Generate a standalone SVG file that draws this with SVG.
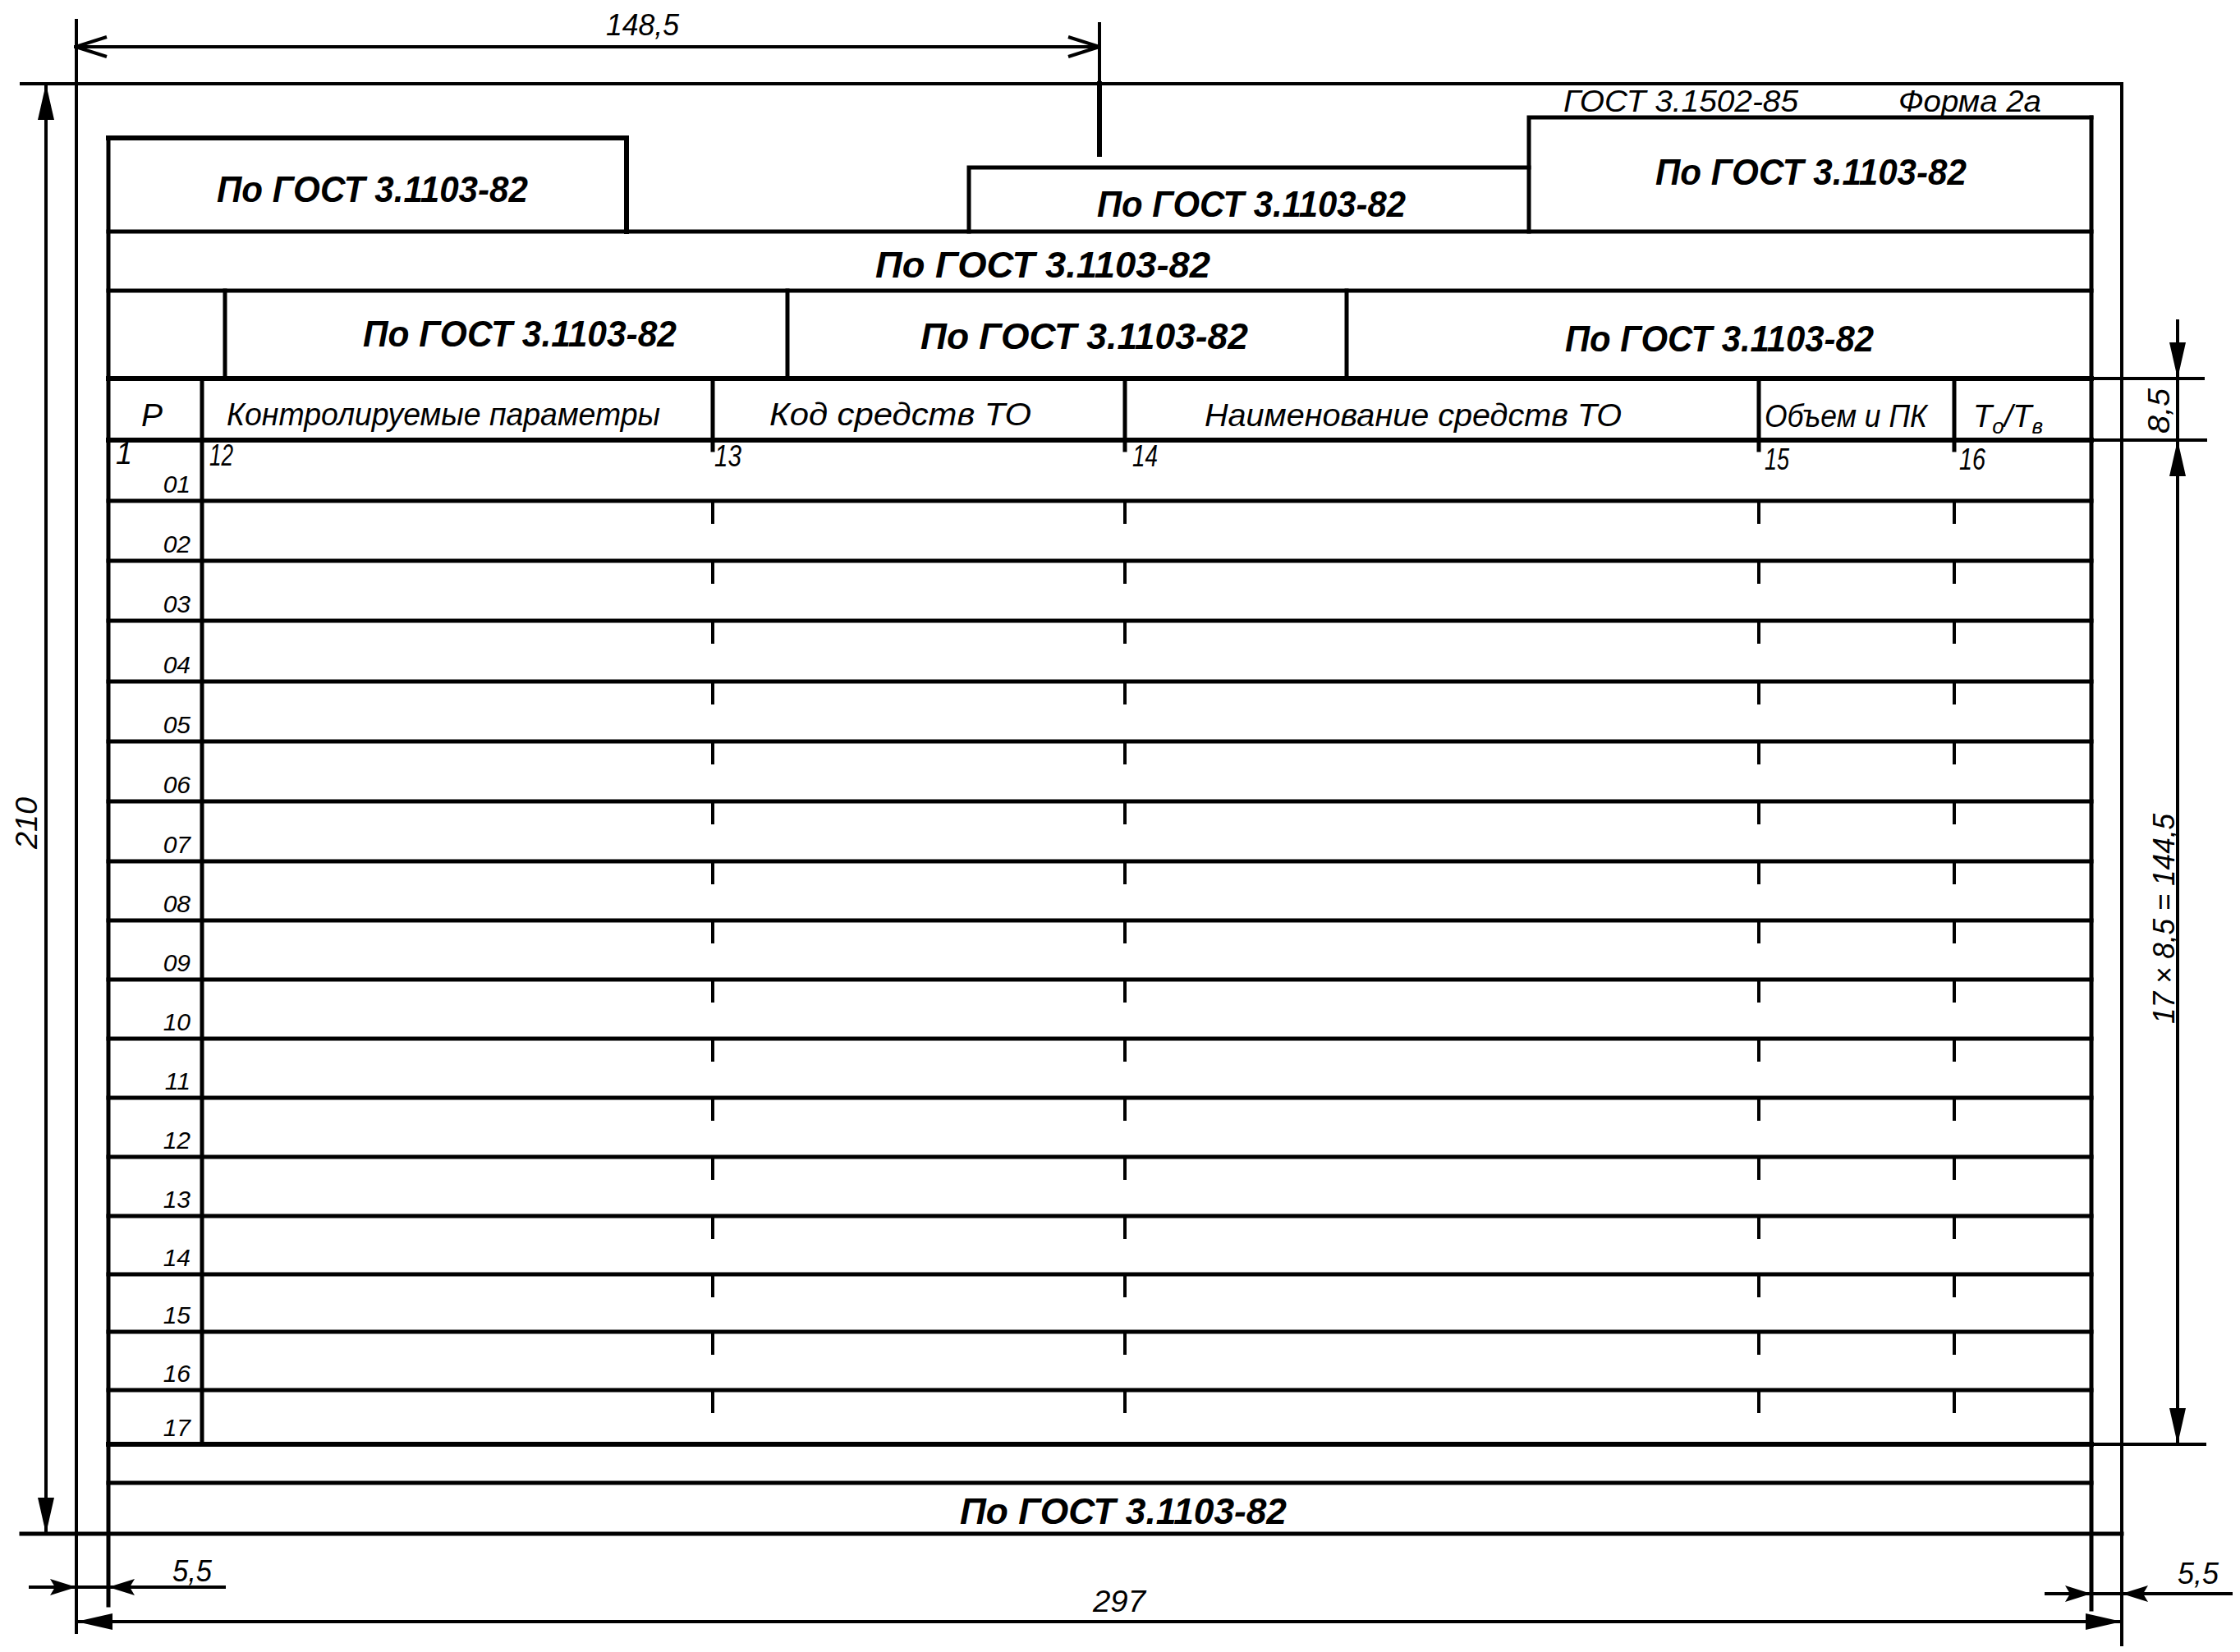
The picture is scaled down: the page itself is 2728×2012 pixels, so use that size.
<svg xmlns="http://www.w3.org/2000/svg" width="2728" height="2012" viewBox="0 0 2728 2012">
<style>
  .bg { fill:#fff }
  .ln { stroke:#000; fill:none; stroke-linecap:square }
  .w4 { stroke-width:4 }
  .w5 { stroke-width:5 }
  .w6 { stroke-width:6 }
  .t { font-family:'Liberation Sans','DejaVu Sans',sans-serif; font-style:italic; fill:#000 }
  .big { font-size:45px; font-weight:bold }
  .hdr { font-size:38px }
  .col { font-size:36px }
  .row { font-size:30px }
  .dim { font-size:36px }
</style>
<defs>
  <marker id="arr" viewBox="-44 -11 44 22" refX="0" refY="0" markerWidth="44" markerHeight="22" markerUnits="userSpaceOnUse" orient="auto-start-reverse">
    <path d="M0,0 L-44,-10 L-44,10 Z" fill="#000"/>
  </marker>
  <marker id="arrs" viewBox="-32 -11 32 22" refX="0" refY="0" markerWidth="32" markerHeight="22" markerUnits="userSpaceOnUse" orient="auto-start-reverse">
    <path d="M0,0 L-32,-10 L-26,0 L-32,10 Z" fill="#000"/>
  </marker>
  <marker id="chev" viewBox="-44 -14 46 28" refX="0" refY="0" markerWidth="46" markerHeight="28" markerUnits="userSpaceOnUse" orient="auto-start-reverse">
    <path d="M-38,-12 L0,0 L-38,12" fill="none" stroke="#000" stroke-width="4"/>
  </marker>
</defs>
<rect class="bg" x="0" y="0" width="2728" height="2012"/>

<g id="frame" class="ln">
  <path class="w4" d="M26,102 H2584"/>
  <path class="w5" d="M26,1868 H2584"/>
  <path class="w4" d="M93,25 V1988"/>
  <path class="w4" d="M2584,102 V2003"/>
  <path class="w5" d="M132,168 V1955"/>
  <path class="w5" d="M2547,143 V1960"/>
</g>

<g id="grid" class="ln">
  <path class="w6" d="M132,168 H763 V282"/>
  <path class="w5" d="M1180,282 V204 H1862"/>
  <path class="w5" d="M1862,282 V143 H2547"/>
  <path class="w5" d="M132,282 H2547"/>
  <path class="w5" d="M132,354 H2547"/>
  <path class="w5" d="M274,354 V461 M959,354 V461 M1640,354 V461"/>
  <path class="w6" d="M132,461 H2547"/>
  <path class="w6" d="M132,536 H2547"/>
  <path class="w5" d="M246,461 V1759"/>
  <path class="w5" d="M868,461 V548 M1370,461 V548 M2142,461 V548 M2380,461 V548"/>
  <path class="w5" d="M132,610 H2547 M132,683 H2547 M132,756 H2547 M132,830 H2547 M132,903 H2547 M132,976 H2547 M132,1049 H2547 M132,1121 H2547 M132,1193 H2547 M132,1265 H2547 M132,1337 H2547 M132,1409 H2547 M132,1481 H2547 M132,1552 H2547 M132,1622 H2547 M132,1693 H2547"/>
  <path class="w4" d="M868,610 v26 M1370,610 v26 M2142,610 v26 M2380,610 v26
    M868,683 v26 M1370,683 v26 M2142,683 v26 M2380,683 v26
    M868,756 v26 M1370,756 v26 M2142,756 v26 M2380,756 v26
    M868,830 v26 M1370,830 v26 M2142,830 v26 M2380,830 v26
    M868,903 v26 M1370,903 v26 M2142,903 v26 M2380,903 v26
    M868,976 v26 M1370,976 v26 M2142,976 v26 M2380,976 v26
    M868,1049 v26 M1370,1049 v26 M2142,1049 v26 M2380,1049 v26
    M868,1121 v26 M1370,1121 v26 M2142,1121 v26 M2380,1121 v26
    M868,1193 v26 M1370,1193 v26 M2142,1193 v26 M2380,1193 v26
    M868,1265 v26 M1370,1265 v26 M2142,1265 v26 M2380,1265 v26
    M868,1337 v26 M1370,1337 v26 M2142,1337 v26 M2380,1337 v26
    M868,1409 v26 M1370,1409 v26 M2142,1409 v26 M2380,1409 v26
    M868,1481 v26 M1370,1481 v26 M2142,1481 v26 M2380,1481 v26
    M868,1552 v26 M1370,1552 v26 M2142,1552 v26 M2380,1552 v26
    M868,1622 v26 M1370,1622 v26 M2142,1622 v26 M2380,1622 v26
    M868,1693 v26 M1370,1693 v26 M2142,1693 v26 M2380,1693 v26"/>
  <path class="w6" d="M132,1759 H2547"/>
  <path class="w5" d="M132,1806 H2547"/>
</g>

<g id="connectors" class="ln w4">
  <path d="M92,57 H1339" marker-start="url(#chev)" marker-end="url(#chev)"/>
  <path d="M1339,29 V102"/>
  <path class="w6" d="M1339,102 V188"/>
  <path d="M56,102 V1868" marker-start="url(#arr)" marker-end="url(#arr)"/>
  <path d="M93,1975 H2584" marker-start="url(#arr)" marker-end="url(#arr)"/>
  <path d="M37,1933 H93" marker-end="url(#arrs)"/>
  <path d="M93,1933 H132"/>
  <path d="M273,1933 H132" marker-end="url(#arrs)"/>
  <path d="M2492,1941 H2547" marker-end="url(#arrs)"/>
  <path d="M2547,1941 H2584"/>
  <path d="M2717,1941 H2584" marker-end="url(#arrs)"/>
  <path d="M2547,461 H2683 M2547,536 H2686 M2547,1759 H2685"/>
  <path d="M2652,391 V461" marker-end="url(#arr)"/>
  <path d="M2652,461 V536"/>
  <path d="M2652,536 V1759" marker-start="url(#arr)" marker-end="url(#arr)"/>
</g>

<g id="titles">
  <text class="t dim" x="1904" y="136" textLength="286" lengthAdjust="spacingAndGlyphs">ГОСТ  3.1502-85</text>
  <text class="t dim" x="2312" y="136" textLength="174" lengthAdjust="spacingAndGlyphs">Форма 2а</text>
</g>

<g id="cell-top-left"><text class="t big" x="264" y="246" textLength="379" lengthAdjust="spacingAndGlyphs">По ГОСТ 3.1103-82</text></g>
<g id="cell-top-mid"><text class="t big" x="1336" y="264" textLength="376" lengthAdjust="spacingAndGlyphs">По ГОСТ 3.1103-82</text></g>
<g id="cell-top-right"><text class="t big" x="2016" y="225" textLength="379" lengthAdjust="spacingAndGlyphs">По ГОСТ 3.1103-82</text></g>
<g id="cell-row2"><text class="t big" x="1066" y="338" textLength="408" lengthAdjust="spacingAndGlyphs">По ГОСТ 3.1103-82</text></g>
<g id="cell-row3-a"><text class="t big" x="442" y="422" textLength="382" lengthAdjust="spacingAndGlyphs">По ГОСТ 3.1103-82</text></g>
<g id="cell-row3-b"><text class="t big" x="1121" y="425" textLength="399" lengthAdjust="spacingAndGlyphs">По ГОСТ 3.1103-82</text></g>
<g id="cell-row3-c"><text class="t big" x="1906" y="428" textLength="376" lengthAdjust="spacingAndGlyphs">По ГОСТ 3.1103-82</text></g>
<g id="cell-bottom"><text class="t big" x="1169" y="1856" textLength="398" lengthAdjust="spacingAndGlyphs">По ГОСТ 3.1103-82</text></g>

<g id="header">
  <text class="t hdr" x="172" y="519" textLength="26" lengthAdjust="spacingAndGlyphs">Р</text>
  <text class="t hdr" x="276" y="518" textLength="528" lengthAdjust="spacingAndGlyphs">Контролируемые  параметры</text>
  <text class="t hdr" x="937" y="518" textLength="319" lengthAdjust="spacingAndGlyphs">Код  средств  ТО</text>
  <text class="t hdr" x="1467" y="519" textLength="508" lengthAdjust="spacingAndGlyphs">Наименование  средств  ТО</text>
  <text class="t hdr" x="2149" y="520" textLength="198" lengthAdjust="spacingAndGlyphs">Объем и ПК</text>
  <text class="t hdr" x="2403" y="520">Т<tspan font-size="26" dy="8">о</tspan><tspan dy="-8">/Т</tspan><tspan font-size="26" dy="8">в</tspan></text>
</g>

<g id="col-index">
  <text class="t col" x="141" y="565">1</text>
  <text class="t col" x="255" y="567" textLength="29" lengthAdjust="spacingAndGlyphs">12</text>
  <text class="t col" x="870" y="568" textLength="33" lengthAdjust="spacingAndGlyphs">13</text>
  <text class="t col" x="1379" y="568" textLength="31" lengthAdjust="spacingAndGlyphs">14</text>
  <text class="t col" x="2149" y="572" textLength="30" lengthAdjust="spacingAndGlyphs">15</text>
  <text class="t col" x="2386" y="572" textLength="32" lengthAdjust="spacingAndGlyphs">16</text>
</g>

<g id="row-numbers" text-anchor="end">
  <text class="t row" x="232" y="600">01</text>
  <text class="t row" x="232" y="673">02</text>
  <text class="t row" x="232" y="746">03</text>
  <text class="t row" x="232" y="820">04</text>
  <text class="t row" x="232" y="893">05</text>
  <text class="t row" x="232" y="966">06</text>
  <text class="t row" x="232" y="1039">07</text>
  <text class="t row" x="232" y="1111">08</text>
  <text class="t row" x="232" y="1183">09</text>
  <text class="t row" x="232" y="1255">10</text>
  <text class="t row" x="232" y="1327">11</text>
  <text class="t row" x="232" y="1399">12</text>
  <text class="t row" x="232" y="1471">13</text>
  <text class="t row" x="232" y="1542">14</text>
  <text class="t row" x="232" y="1612">15</text>
  <text class="t row" x="232" y="1683">16</text>
  <text class="t row" x="232" y="1749">17</text>
</g>

<g id="dim-labels">
  <text class="t dim" x="738" y="43" font-size="34" textLength="89" lengthAdjust="spacingAndGlyphs">148,5</text>
  <text class="t dim" x="210" y="1926" textLength="48" lengthAdjust="spacingAndGlyphs">5,5</text>
  <text class="t dim" x="2652" y="1929" textLength="50" lengthAdjust="spacingAndGlyphs">5,5</text>
  <text class="t dim" x="1331" y="1963" textLength="64" lengthAdjust="spacingAndGlyphs">297</text>
  <text class="t dim" transform="translate(45,1003) rotate(-90)" x="-31" y="0" font-size="44" textLength="63" lengthAdjust="spacingAndGlyphs">210</text>
  <text class="t dim" transform="translate(2642,501) rotate(-90)" x="-27" y="0" font-size="38" textLength="55" lengthAdjust="spacingAndGlyphs">8,5</text>
  <text class="t dim" transform="translate(2648,1119) rotate(-90)" x="-128" y="0" font-size="40" textLength="256" lengthAdjust="spacingAndGlyphs">17 × 8,5 = 144,5</text>
</g>
</svg>
